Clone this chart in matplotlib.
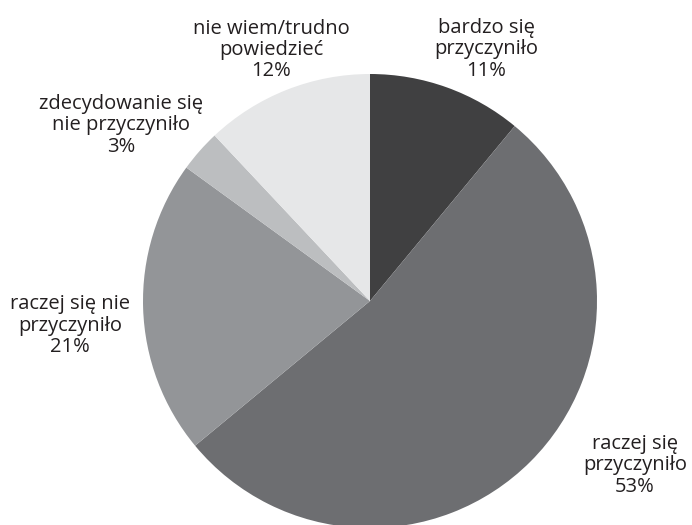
import matplotlib
matplotlib.use("Agg")
from matplotlib import pyplot as plt

# slice values, clockwise from 12 o'clock
labels = ["bardzo się\nprzyczyniło", "raczej się\nprzyczyniło", "raczej się nie\nprzyczyniło",
          "zdecydowanie się\nnie przyczyniło", "nie wiem/trudno\npowiedzieć"]
values = [11, 53, 21, 3, 12]
colors = ["#404041", "#6d6e71", "#939598", "#bcbec0", "#e6e7e8"]

# label centres in pixel coords (x from left, y from top)
label_pos = [(486, 49), (635, 465), (70, 326), (121, 125), (271, 50)]

W, H = 692, 525
fig = plt.figure(figsize=(W / 100, H / 100), dpi=100)
ax = fig.add_axes([0, 0, 1, 1])

ax.pie(values, colors=colors, startangle=90, counterclock=False,
       center=(370, H - 301), radius=227, frame=True,
       wedgeprops={"linewidth": 0})
ax.set_xlim(0, W)
ax.set_ylim(0, H)
ax.set_aspect("equal")
ax.axis("off")

for lab, v, (px, py) in zip(labels, values, label_pos):
    ax.text(px, H - py, lab + "\n" + str(v) + "%", ha="center", va="center",
            fontsize=14.5, color="#231f20", family="Open Sans", linespacing=1.1)

fig.savefig("out.png", dpi=100)
